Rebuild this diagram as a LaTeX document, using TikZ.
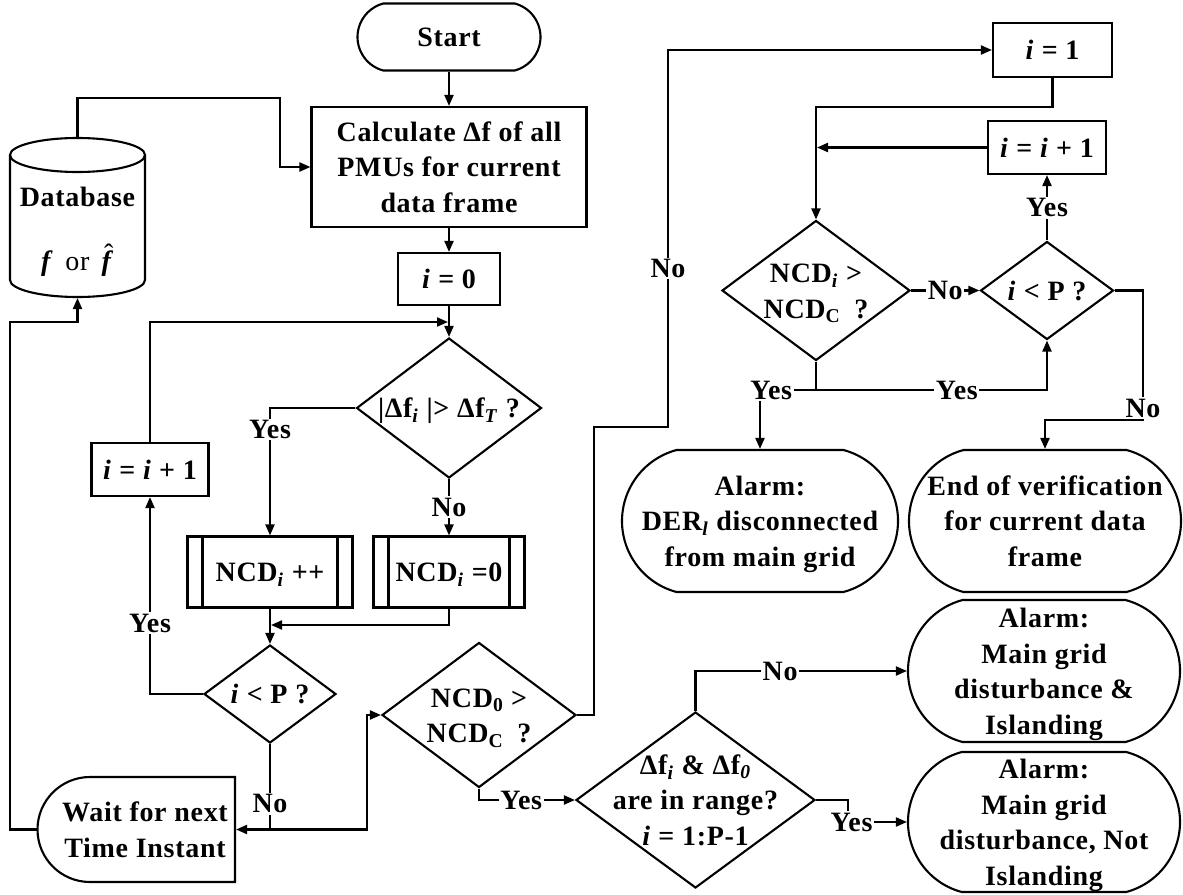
\documentclass[tikz,border=0pt]{standalone}
\usepackage{fontspec}
\setmainfont{Liberation Serif}[LetterSpace=2.5]
\usetikzlibrary{shapes.geometric,shapes.misc,arrows.meta}

% subscripts and zero-size centred text blocks for shaped nodes
\newcommand\sbs[1]{\textsubscript{#1}}
\newcommand\ztext[2][-9pt]{\raisebox{#1}[0pt][0pt]{\makebox[0pt]{\begin{tabular}{@{}c@{}}#2\end{tabular}}}}
% f with a small circumflex set above it
\newcommand\fhat{\makebox[0pt][l]{\raisebox{7pt}{\hspace{2.5pt}\mdseries ˆ}}\textit{f}}

\begin{document}
\begin{tikzpicture}[x=1pt,y=-1pt,line width=2.1pt,
  every node/.style={font=\fontsize{28}{35.5}\selectfont\bfseries},
  term/.style={draw,rounded rectangle,rounded rectangle arc length=150,inner sep=0pt},
  box/.style={draw,rectangle,inner sep=0pt},
  proc/.style={box,path picture={
      \draw[line width=2.1pt] ([xshift=15pt]path picture bounding box.north west) -- ([xshift=15pt]path picture bounding box.south west);
      \draw[line width=2.1pt] ([xshift=-15pt]path picture bounding box.north east) -- ([xshift=-15pt]path picture bounding box.south east);}},
  dec/.style={draw,diamond,inner sep=0pt},
  lbl/.style={fill=white,inner sep=1.5pt},
  arr/.style={-{Triangle[length=11pt,width=9pt]}}]

\useasboundingbox (0,0) rectangle (1183,894);

% ---------------- left column ----------------
\node[term,minimum width=183,minimum height=67] (start) at (449,37) {\ztext{Start}};
\node[box,minimum width=275,minimum height=120] (calc) at (449,167)
  {\ztext{Calculate Δf of all\\PMUs for current\\data frame}};
\node[box,minimum width=102,minimum height=52] (iz) at (449,279) {\ztext{\textit{i} = 0}};
\node[dec,minimum width=185,minimum height=140] (dchk) at (449,408)
  {\ztext{|Δf\sbs{\textit{i}} |> Δf\sbs{\textit{T}} ?}};
\node[proc,minimum width=165,minimum height=71] (ncdpp) at (270,572) {\ztext{NCD\sbs{\textit{i}} ++}};
\node[proc,minimum width=151,minimum height=71] (ncdz) at (449,572) {\ztext{NCD\sbs{\textit{i}} =0}};
\node[dec,minimum width=132,minimum height=98] (dlp) at (270,694) {\ztext{\textit{i} < P ?}};
\node[box,minimum width=117,minimum height=53] (inc1) at (150,469.5) {\ztext{\textit{i} = \textit{i} + 1}};

% database cylinder
\node[minimum width=135,minimum height=159,inner sep=0pt] (db) at (77.5,217.5)
  {\ztext[-20pt]{Database\\[27.5pt]\textit{f}\hspace{12pt}{\mdseries or}\hspace{12pt}\fhat}};
\draw (10,155) -- (10,280) .. controls (10,289.4) and (40.2,297) .. (77.5,297)
      .. controls (114.8,297) and (145,289.4) .. (145,280) -- (145,155);
\draw (77.5,155) ellipse [x radius=67.5,y radius=17];

% delay-shaped wait box
\node[minimum width=197,minimum height=105,inner sep=0pt] (wait) at (136.5,829.5)
  {\ztext{\hspace*{17pt}Wait for next\\\hspace*{17pt}Time Instant}};
\draw (235,777) -- (90,777) .. controls (61,777) and (37.5,800.5) .. (37.5,829.5)
      .. controls (37.5,858.5) and (61,882) .. (90,882) -- (235,882) -- cycle;

% ---------------- middle / right ----------------
\node[dec,minimum width=194,minimum height=145] (dn0) at (479,715)
  {\ztext{NCD\sbs{0} >\\NCD\sbs{C}\hspace{14pt}?}};
\node[dec,minimum width=239,minimum height=176] (drange) at (695.5,800)
  {\ztext{Δf\sbs{\textit{i}} \& Δf\sbs{\textit{0}}\\are in range?\\\textit{i} = 1:P-1}};
\node[term,minimum width=272,minimum height=142] (alisl) at (1044,671)
  {\ztext{Alarm:\\Main grid\\disturbance \&\\Islanding}};
\node[term,minimum width=272,minimum height=140] (alnot) at (1044,822)
  {\ztext{Alarm:\\Main grid\\disturbance, Not\\Islanding}};

\node[box,minimum width=119,minimum height=54] (i1) at (1052.5,50) {\ztext{\textit{i} = 1}};
\node[box,minimum width=118,minimum height=53] (inc2) at (1047,147.5) {\ztext{\textit{i} = \textit{i} + 1}};
\node[dec,minimum width=188,minimum height=140] (dnci) at (816,290.5)
  {\ztext{NCD\sbs{\textit{i}} >\\NCD\sbs{C}\hspace{14pt}?}};
\node[dec,minimum width=133,minimum height=98] (dlp2) at (1047,290.5) {\ztext{\textit{i} < P ?}};
\node[term,minimum width=276,minimum height=142] (alder) at (760,521)
  {\ztext{Alarm:\\DER\sbs{\textit{l}} disconnected\\from main grid}};
\node[term,minimum width=272,minimum height=142] (endv) at (1045,521)
  {\ztext{End of verification\\for current data\\frame}};

% ---------------- bend points ----------------
\coordinate (dbk) at (280,98);
\coordinate (lb) at (10,322);
\coordinate (lj) at (448,322);
\coordinate (mj) at (271,625);
\coordinate (wj) at (270,829.5);
\coordinate (wk) at (367,829.5);
\coordinate (c1) at (594,427);
\coordinate (c2) at (668,427);
\coordinate (yk) at (848,800);
\coordinate (k1) at (816,107);
\coordinate (k2) at (817,147.5);
\coordinate (k3) at (816,390);
\coordinate (k4) at (1143,420);

% ---------------- connectors ----------------
\draw[arr] (start) -- (calc);
\draw[arr] (calc) -- (iz);
\draw[arr] (iz) -- (dchk);
\draw[arr] (db.north) |- (dbk) |- (calc.west);
\draw[arr] (wait.west) -| (lb) -| (db.south);
\draw[arr] (dchk.west) -| node[lbl,pos=0.585] {Yes} (ncdpp.north);
\draw[arr] (dchk.south) -- node[lbl] {No} (ncdz.north);
\draw[arr] (ncdz.south) |- (mj);
\draw[arr] (ncdpp.south) -- (dlp.north);
\draw[arr] (dlp.west) -| node[lbl,pos=0.68] {Yes} (inc1.south);
\draw[arr] (inc1.north) |- (lj);
\draw[arr] (dlp.south) |- node[lbl,pos=0.35] {No} (wait.east);
\draw[arr] (wj) -- (wk) |- (dn0.west);
\draw[arr] (dn0.east) -| (c1) -- (c2) |- node[lbl,pos=0.21] {No} (i1.west);
\draw[arr] (dn0.south) |- node[lbl,pos=0.72] {Yes} (drange.west);
\draw[arr] (drange.north) |- node[lbl,pos=0.7] {No} (alisl.west);
\draw[arr] (drange.east) -- (yk) |- node[lbl,pos=0.53] {Yes} (alnot.west);
\draw[arr] (i1.south) |- (k1) -- (dnci.north);
\draw[arr] (inc2.west) -- (k2);
\draw[arr] (dnci.east) -- node[lbl] {No} (dlp2.west);
\draw[arr] (dlp2.north) -- node[lbl] {Yes} (inc2.south);
\draw[arr] (dnci.south) -- (k3) -| node[lbl,pos=0.305] {Yes} (dlp2.south);
\draw[arr] (k3) -| node[lbl,pos=0.4] {Yes} (alder.north);
\draw[arr] (dlp2.east) -| (k4) node[lbl,pos=1,yshift=12pt] {No} -| (endv.north);
\end{tikzpicture}
\end{document}
